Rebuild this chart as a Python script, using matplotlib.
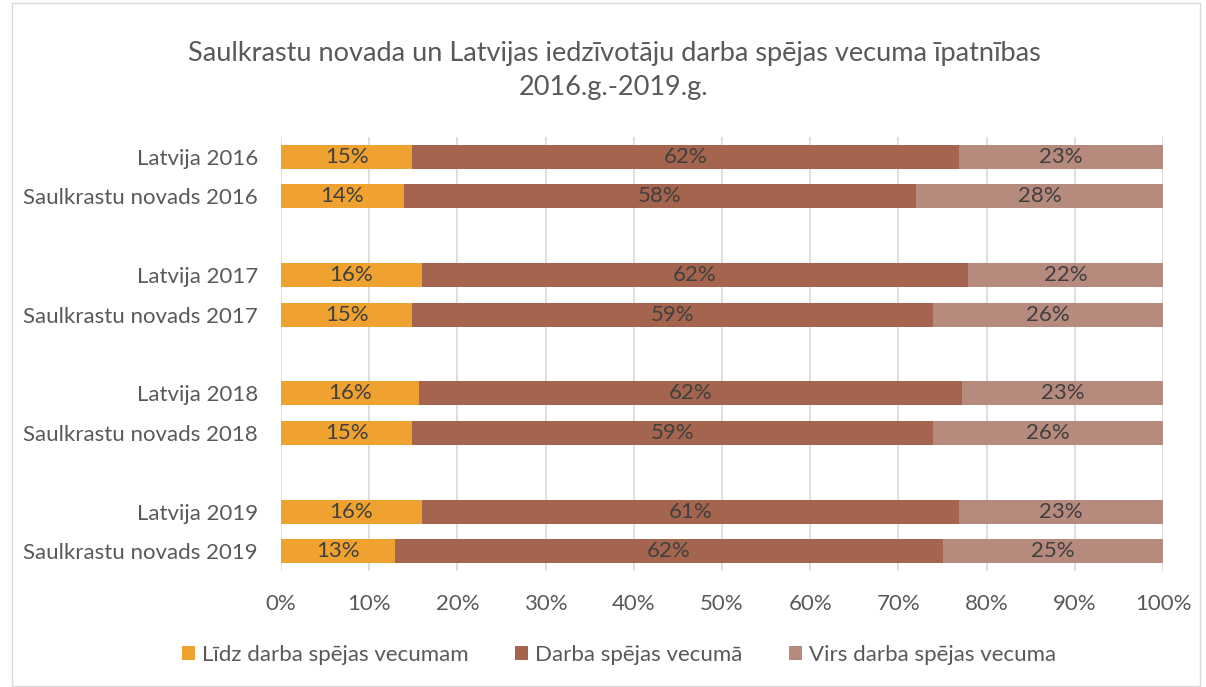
import matplotlib.pyplot as plt
import numpy as np
from matplotlib.patches import Rectangle

## Data
categories = ['Latvija 2016', 'Saulkrastu novads 2016',
              'Latvija 2017', 'Saulkrastu novads 2017',
              'Latvija 2018', 'Saulkrastu novads 2018',
              'Latvija 2019', 'Saulkrastu novads 2019']
series_names = ['Līdz darba spējas vecumam', 'Darba spējas vecumā', 'Virs darba spējas vecuma']
lidz = [0.149, 0.139, 0.160, 0.149, 0.156, 0.149, 0.160, 0.129]
darba = [0.620, 0.581, 0.619, 0.590, 0.616, 0.590, 0.609, 0.621]
virs = [0.231, 0.280, 0.221, 0.261, 0.228, 0.261, 0.231, 0.250]
colors = ['#EFA230', '#A5644D', '#B78A7E']
title = 'Saulkrastu novada un Latvijas iedzīvotāju darba spējas vecuma īpatnības\n2016.g.-2019.g.'

## Style
plt.rcParams['font.family'] = ['Lato', 'DejaVu Sans']
text_color = '#595959'
grid_color = '#D9D9D9'

fig = plt.figure(figsize=(12.06, 6.87), dpi=100)
W, H = 1206, 687
ax = fig.add_axes([281 / W, 1 - 570.6 / H, (1163 - 281) / W, (570.6 - 137.4) / H])

# pairs separated by an empty slot, as in the original
slots = []
for i in range(len(categories)):
    slots.append(i // 2 * 3 + i % 2)
slots = np.array(slots)

left = np.zeros(len(categories))
for name, vals, c in zip(series_names, [lidz, darba, virs], colors):
    vals = np.array(vals)
    ax.barh(slots, vals, left=left, height=0.61, color=c, label=name, zorder=3)
    for y, l, v in zip(slots, left, vals):
        ax.text(l + v / 2, y, '{:.0%}'.format(v), ha='center', va='center',
                fontsize=16, color='#404040', zorder=4)
    left += vals

ax.set_xlim(0, 1)
ax.set_ylim(slots.max() + 0.5, -0.5)
ax.set_xticks(np.arange(0, 1.01, 0.1))
ax.set_xticklabels(['{:.0%}'.format(t) for t in np.arange(0, 1.01, 0.1)])
ax.set_yticks(slots)
ax.set_yticklabels(categories)
ax.tick_params(axis='both', length=0, labelsize=16, labelcolor=text_color)
ax.tick_params(axis='x', pad=17)
ax.tick_params(axis='y', pad=16.5)
ax.grid(axis='x', color=grid_color, linewidth=1.2, zorder=0)
for s in ax.spines.values():
    s.set_visible(False)

fig.text(614 / W, 1 - 70 / H, title, ha='center', va='center', fontsize=19.5,
         color=text_color, linespacing=1.45)

ax.legend(loc='center', bbox_to_anchor=(619 / W, 1 - 655 / H), bbox_transform=fig.transFigure,
          ncol=3, frameon=False, fontsize=16, labelcolor=text_color,
          handlelength=0.6, handleheight=0.6, handletextpad=0.3, columnspacing=2.1)

fig.patches.append(Rectangle((12 / W, 0.002), (1200 - 12) / W, 0.994, transform=fig.transFigure,
                             fill=False, edgecolor=grid_color, linewidth=1))

fig.savefig('out.png', dpi=100)
